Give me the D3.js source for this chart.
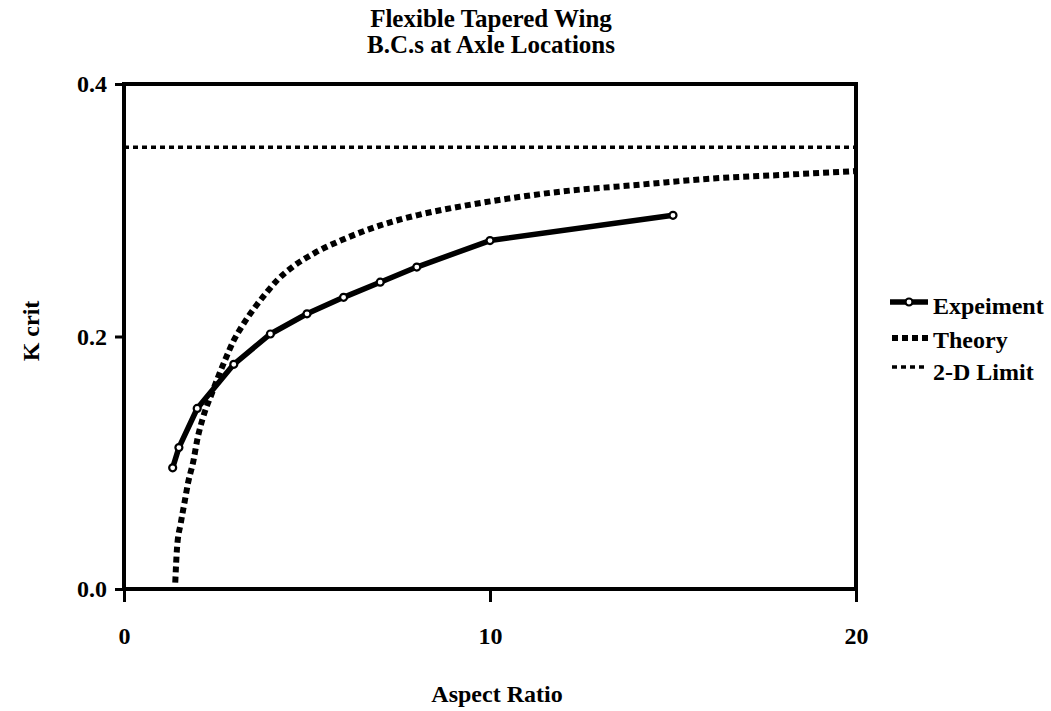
<!DOCTYPE html>
<html>
<head>
<meta charset="utf-8">
<script src="https://cdn.jsdelivr.net/npm/d3@7/dist/d3.min.js"></script>
<style>
  html, body { margin: 0; padding: 0; background: #fff; }
  svg { display: block; }
  text { font-family: "Liberation Serif", "Times New Roman", serif; font-weight: bold; fill: #000; }
</style>
</head>
<body>
<svg id="chart" width="1051" height="711"></svg>
<script>
// Critical flutter parameter vs. aspect ratio
const experimentAR = [1.33, 1.5, 2, 3, 4, 5, 6, 7, 8, 10, 15];
const experimentK  = [0.096, 0.112, 0.143, 0.178, 0.202, 0.218, 0.231, 0.243, 0.255, 0.276, 0.296];

const theoryAR = [1.4, 1.45, 1.55, 1.65, 1.75, 1.9, 2.0, 2.15, 2.4, 2.6, 2.8, 3.0, 3.2, 3.4, 3.6, 3.9, 4.2, 4.6, 5.2, 6.0, 7.0, 8.0, 9.0, 10, 12, 14, 16, 18, 20];
const theoryK  = [0.005, 0.033, 0.052, 0.068, 0.084, 0.102, 0.118, 0.135, 0.155, 0.170, 0.184, 0.197, 0.207, 0.216, 0.224, 0.235, 0.245, 0.255, 0.266, 0.277, 0.288, 0.296, 0.302, 0.307, 0.315, 0.320, 0.325, 0.328, 0.331];

const limitAR = [0, 20];
const limitK  = [0.35, 0.35];

const xTicks = [0, 10, 20];
const yTicks = [0.0, 0.2, 0.4];

const titleLines = ["Flexible Tapered Wing", "B.C.s at Axle Locations"];
const legendLabels = ["Expeiment", "Theory", "2-D Limit"];

const svg = d3.select("#chart");
const plotLeft = 124, plotRight = 856, plotTop = 84, plotBottom = 589;

const x = d3.scaleLinear().domain([0, 20]).range([plotLeft, plotRight]);
const y = d3.scaleLinear().domain([0, 0.4]).range([plotBottom, plotTop]);

// Title
svg.append("g").selectAll("text").data(titleLines).join("text")
  .attr("x", 491).attr("y", (d, i) => 27 + i * 26)
  .attr("text-anchor", "middle").style("font-size", "25px")
  .text(d => d);

// Frame
svg.append("rect")
  .attr("x", plotLeft).attr("y", plotTop)
  .attr("width", plotRight - plotLeft).attr("height", plotBottom - plotTop)
  .attr("fill", "none").attr("stroke", "#000").attr("stroke-width", 4);

// Axes
const xAxis = d3.axisBottom(x).tickValues(xTicks).tickFormat(d3.format("d"))
  .tickSizeInner(13).tickSizeOuter(0).tickPadding(25);
const gx = svg.append("g").attr("transform", `translate(0,${plotBottom})`).call(xAxis);
gx.select(".domain").remove();
gx.selectAll(".tick line").attr("stroke", "#000").attr("stroke-width", 3);
gx.selectAll(".tick text").style("font-size", "24px");

const yAxis = d3.axisLeft(y).tickValues(yTicks).tickFormat(d3.format(".1f"))
  .tickSizeInner(9).tickSizeOuter(0).tickPadding(8);
const gy = svg.append("g").attr("transform", `translate(${plotLeft},0)`).call(yAxis);
gy.select(".domain").remove();
gy.selectAll(".tick line").attr("stroke", "#000").attr("stroke-width", 3);
gy.selectAll(".tick text").style("font-size", "24px");

// Axis titles
svg.append("text").attr("x", 497).attr("y", 702)
  .attr("text-anchor", "middle").style("font-size", "24px").text("Aspect Ratio");
svg.append("text").attr("transform", "translate(39,331) rotate(-90)")
  .attr("text-anchor", "middle").style("font-size", "24px").text("K crit");

const line = d3.line().x(d => x(d[0])).y(d => y(d[1]));

// 2-D limit
svg.append("path").datum(d3.zip(limitAR, limitK))
  .attr("d", line).attr("fill", "none").attr("stroke", "#000")
  .attr("stroke-width", 3.5).attr("stroke-dasharray", "5,4");

// Theory
svg.append("path").datum(d3.zip(theoryAR, theoryK))
  .attr("d", d3.line().x(d => x(d[0])).y(d => y(d[1])).curve(d3.curveMonotoneX))
  .attr("fill", "none").attr("stroke", "#000")
  .attr("stroke-width", 6).attr("stroke-dasharray", "6,4");

// Experiment
const expData = d3.zip(experimentAR, experimentK);
svg.append("path").datum(expData)
  .attr("d", line).attr("fill", "none")
  .attr("stroke", "#000").attr("stroke-width", 5.5).attr("stroke-linejoin", "round");
svg.append("g").selectAll("circle").data(expData).join("circle")
  .attr("cx", d => x(d[0])).attr("cy", d => y(d[1])).attr("r", 3.5)
  .attr("fill", "#fff").attr("stroke", "#000").attr("stroke-width", 2.2);

// Legend
const lg = svg.append("g");
const legendLineY = [302, 338, 367];
const legendTextY = [314, 348, 380];
lg.append("line").attr("x1", 890).attr("x2", 928).attr("y1", legendLineY[0]).attr("y2", legendLineY[0])
  .attr("stroke", "#000").attr("stroke-width", 5.5);
lg.append("circle").attr("cx", 909).attr("cy", legendLineY[0]).attr("r", 3.5)
  .attr("fill", "#fff").attr("stroke", "#000").attr("stroke-width", 2.2);
lg.append("line").attr("x1", 892).attr("x2", 928).attr("y1", legendLineY[1]).attr("y2", legendLineY[1])
  .attr("stroke", "#000").attr("stroke-width", 6).attr("stroke-dasharray", "6,4");
lg.append("line").attr("x1", 892).attr("x2", 928).attr("y1", legendLineY[2]).attr("y2", legendLineY[2])
  .attr("stroke", "#000").attr("stroke-width", 3.5).attr("stroke-dasharray", "5,4");
lg.selectAll("text").data(legendLabels).join("text")
  .attr("x", 933).attr("y", (d, i) => legendTextY[i])
  .style("font-size", "24px").text(d => d);
</script>
</body>
</html>
